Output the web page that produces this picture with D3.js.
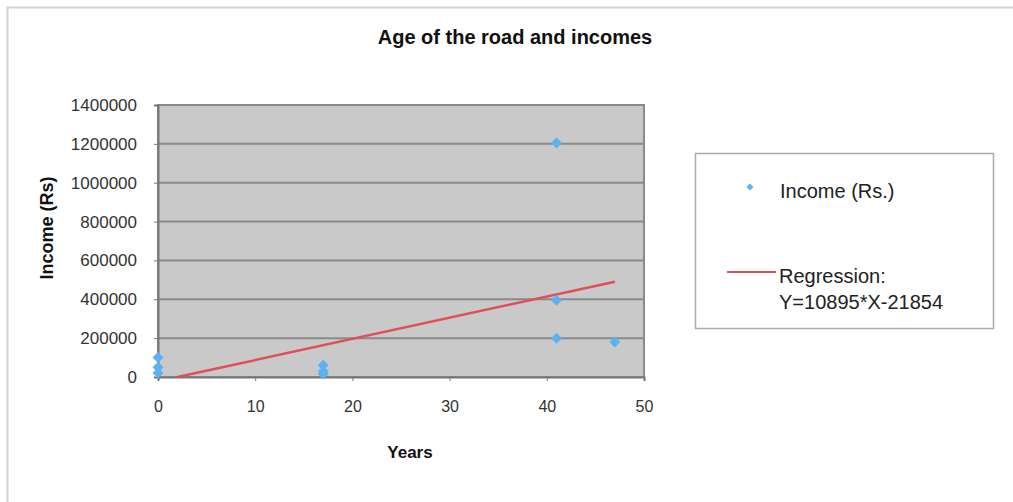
<!DOCTYPE html>
<html>
<head>
<meta charset="utf-8">
<script src="https://cdn.jsdelivr.net/npm/d3@7"></script>
<style>
  body { margin: 0; background: #fff; }
  text { font-family: "Liberation Sans", Arial, sans-serif; }
</style>
</head>
<body>
<svg id="chart"></svg>
<script>
// data
var years   = [0, 0, 0, 17, 17, 17, 41, 41, 41, 47];
var incomes = [100000, 50000, 20000, 60000, 30000, 15000, 1205000, 395000, 200000, 180000];
var slope = 10895, intercept = -21854;
var regYears = [2.006, 47];
var xTicks = [0, 10, 20, 30, 40, 50];
var yTicks = [0, 200000, 400000, 600000, 800000, 1000000, 1200000, 1400000];

var W = 1013, H = 502;
var plot = {left: 158, right: 644, top: 105, bottom: 377};
var blue = '#5cb2ef', red = '#e04e5c';

var svg = d3.select('#chart').attr('width', W).attr('height', H);

// outer frame
svg.append('rect')
  .attr('x', 7.5).attr('y', 7.5)
  .attr('width', W + 10).attr('height', H + 10)
  .attr('fill', '#fff').attr('stroke', '#d4d4d4').attr('stroke-width', 2);

var x = d3.scaleLinear().domain([0, 50]).range([plot.left, plot.right]);
var y = d3.scaleLinear().domain([0, 1400000]).range([plot.bottom, plot.top]);

svg.append('rect')
  .attr('x', plot.left).attr('y', plot.top)
  .attr('width', plot.right - plot.left).attr('height', plot.bottom - plot.top)
  .attr('fill', '#c9c9c9');

// gridlines
svg.selectAll('line.grid')
  .data(yTicks)
  .enter().append('line')
    .attr('class', 'grid')
    .attr('x1', plot.left).attr('x2', plot.right)
    .attr('y1', function(d) {return y(d)})
    .attr('y2', function(d) {return y(d)})
    .attr('stroke', '#8a8a8a')
    .attr('stroke-width', 2);

svg.append('rect')
  .attr('x', plot.left).attr('y', plot.top)
  .attr('width', plot.right - plot.left).attr('height', plot.bottom - plot.top)
  .attr('fill', 'none').attr('stroke', '#8a8a8a').attr('stroke-width', 2);

// axes
var xAxis = d3.axisBottom(x).tickValues(xTicks).tickSize(4).tickPadding(20);
var gx = svg.append('g').attr('transform', 'translate(0,' + plot.bottom + ')').call(xAxis);
gx.select('.domain').attr('stroke', '#777').attr('stroke-width', 2);
gx.selectAll('.tick line').attr('stroke', '#777');
gx.selectAll('.tick text').attr('font-size', 16).attr('fill', '#333');

var yAxis = d3.axisLeft(y).tickValues(yTicks).tickSize(4).tickPadding(17).tickFormat(d3.format('d'));
var gy = svg.append('g').attr('transform', 'translate(' + plot.left + ',0)').call(yAxis);
gy.select('.domain').attr('stroke', '#777').attr('stroke-width', 2);
gy.selectAll('.tick line').attr('stroke', '#777');
gy.selectAll('.tick text').attr('font-size', 17).attr('fill', '#333');

// regression line
var line = d3.line()
  .x(function(d) {return x(d)})
  .y(function(d) {return y(slope * d + intercept)});
svg.append('path')
  .datum(regYears)
  .attr('d', line)
  .attr('fill', 'none')
  .attr('stroke', red)
  .attr('stroke-width', 2.5);

// points, squat diamonds
function diamond(r) {
  return 'M0,' + (-r) + 'L' + r + ',0L0,' + r + 'L' + (-r) + ',0Z';
}
svg.selectAll('path.pt')
  .data(years)
  .enter().append('path')
    .attr('class', 'pt')
    .attr('d', diamond(5.5))
    .attr('transform', function(d, i) {return 'translate(' + x(d) + ',' + y(incomes[i]) + ')'})
    .attr('fill', blue);

// titles
svg.append('text')
  .attr('x', 515).attr('y', 44)
  .attr('text-anchor', 'middle')
  .attr('font-size', 20).attr('font-weight', 'bold').attr('fill', '#111')
  .text('Age of the road and incomes');

svg.append('text')
  .attr('x', 410).attr('y', 458)
  .attr('text-anchor', 'middle')
  .attr('font-size', 17).attr('font-weight', 'bold').attr('fill', '#111')
  .text('Years');

svg.append('text')
  .attr('transform', 'translate(53,228) rotate(-90)')
  .attr('text-anchor', 'middle')
  .attr('font-size', 18).attr('font-weight', 'bold').attr('fill', '#111')
  .text('Income (Rs)');

// legend
var lg = svg.append('g');
lg.append('rect')
  .attr('x', 695.5).attr('y', 153.5)
  .attr('width', 298).attr('height', 175)
  .attr('fill', '#fff').attr('stroke', '#aaa').attr('stroke-width', 1.5);
lg.append('path')
  .attr('d', diamond(3.5))
  .attr('transform', 'translate(750,187)')
  .attr('fill', blue);
lg.append('text')
  .attr('x', 780).attr('y', 198)
  .attr('font-size', 20).attr('fill', '#222')
  .text('Income (Rs.)');
lg.append('line')
  .attr('x1', 727).attr('x2', 776).attr('y1', 272).attr('y2', 272)
  .attr('stroke', red).attr('stroke-width', 2);
lg.append('text')
  .attr('x', 779).attr('y', 283)
  .attr('font-size', 20).attr('fill', '#222')
  .text('Regression:');
lg.append('text')
  .attr('x', 779).attr('y', 309)
  .attr('font-size', 20).attr('fill', '#222')
  .text('Y=10895*X-21854');
</script>
</body>
</html>
